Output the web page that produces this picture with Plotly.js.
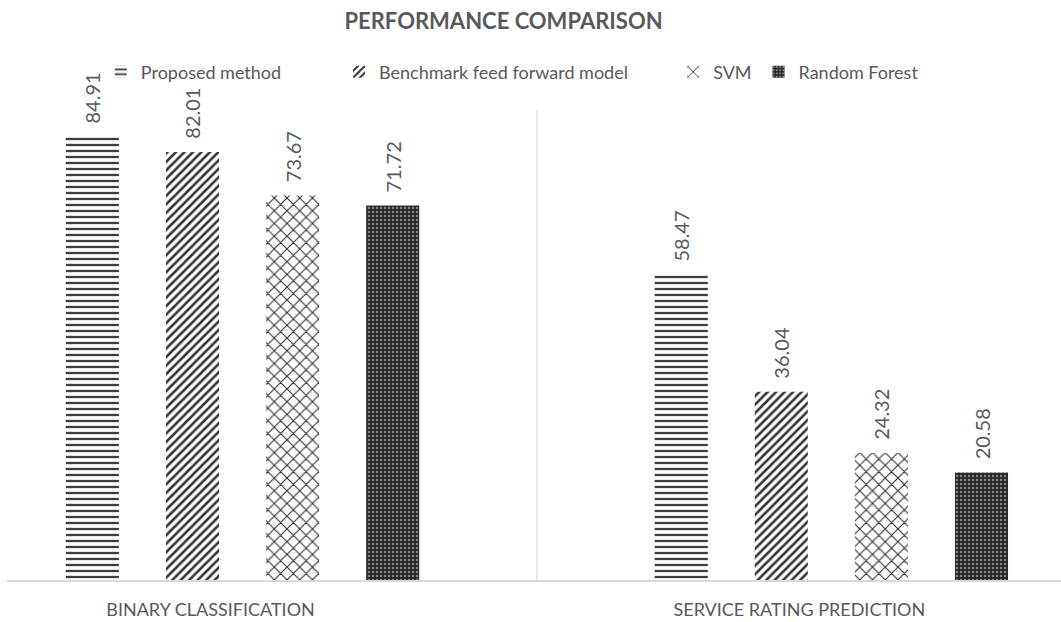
<!DOCTYPE html>
<html>
<head>
<meta charset="utf-8">
<script src="https://cdn.plot.ly/plotly-3.0.1.min.js"></script>
<style>html,body{margin:0;padding:0;background:#fff;}#chart{width:1061px;height:622px;}</style>
</head>
<body>
<div id="chart"></div>
<script>
const categories = ["BINARY CLASSIFICATION", "SERVICE RATING PREDICTION"];
const seriesNames = ["Proposed method", "Benchmark feed forward model", "SVM", "Random Forest"];
const proposed = [84.91, 58.47];
const benchmark = [82.01, 36.04];
const svm = [73.67, 24.32];
const randomForest = [71.72, 20.58];
const chartTitle = "PERFORMANCE COMPARISON";

const values = [proposed, benchmark, svm, randomForest];
const patterns = [
  {shape: "-", fgcolor: "#3c3c3c", bgcolor: "#ffffff", size: 6, solidity: 0.38},
  {shape: "/", fgcolor: "#333333", bgcolor: "#ffffff", size: 6, solidity: 0.42},
  {shape: "x", fgcolor: "#2e2e2e", bgcolor: "#ffffff", size: 9, solidity: 0.22},
  {shape: ".", fgcolor: "#858585", bgcolor: "#262626", size: 4, solidity: 0.3}
];
const legendNames = ["legend", "legend2", "legend3", "legend4"];
const legendX = [0.089, 0.315, 0.632, 0.713];
const FONT = "Lato, 'Open Sans', sans-serif";
const labelColor = "#595959";

const traces = seriesNames.map((name, i) => ({
  type: "bar",
  name: name,
  x: categories,
  y: values[i],
  text: values[i].map(v => "\u00a0\u00a0" + v.toFixed(2)),
  textposition: "outside",
  textangle: -90,
  constraintext: "none",
  cliponaxis: false,
  textfont: {family: FONT, size: 20, color: labelColor},
  marker: {color: patterns[i].bgcolor, line: {width: 0}, pattern: patterns[i]},
  legend: legendNames[i],
  hoverinfo: "x+y+name"
}));

const legendCommon = {
  orientation: "h",
  yanchor: "middle",
  xanchor: "left",
  y: 0.973,
  font: {family: FONT, size: 18, color: labelColor},
  bgcolor: "rgba(0,0,0,0)",
  borderwidth: 0,
  itemwidth: 30
};

const layout = {
  width: 1061,
  height: 622,
  margin: {l: 7, r: 0, t: 58, b: 42, pad: 0},
  paper_bgcolor: "#ffffff",
  plot_bgcolor: "#ffffff",
  font: {family: FONT, color: labelColor},
  title: {
    text: "<b>" + chartTitle + "</b>",
    font: {family: FONT, size: 22, color: "#595959"},
    x: 0.4746, xref: "container", xanchor: "center",
    y: 0.966, yref: "container", yanchor: "middle"
  },
  barmode: "group",
  bargap: 0.32,
  bargroupgap: 0.47,
  xaxis: {
    type: "category",
    range: [-0.4, 1.39],
    showline: true,
    linecolor: "#d9d9d9",
    linewidth: 1.5,
    ticks: "",
    showgrid: false,
    zeroline: false,
    ticklabelshift: -32,
    ticklabelstandoff: 13,
    tickfont: {family: FONT, size: 18, color: labelColor},
    fixedrange: true
  },
  yaxis: {
    range: [0, 100],
    visible: false,
    showgrid: false,
    zeroline: false,
    fixedrange: true
  },
  shapes: [{
    type: "line", xref: "x", yref: "paper",
    x0: 0.5, x1: 0.5, y0: 0, y1: 0.9,
    line: {color: "#d9d9d9", width: 1.2}
  }],
  legend: Object.assign({}, legendCommon, {x: legendX[0]}),
  legend2: Object.assign({}, legendCommon, {x: legendX[1]}),
  legend3: Object.assign({}, legendCommon, {x: legendX[2]}),
  legend4: Object.assign({}, legendCommon, {x: legendX[3]}),
  showlegend: true
};

Plotly.newPlot("chart", traces, layout, {displayModeBar: false, staticPlot: true});
</script>
</body>
</html>
